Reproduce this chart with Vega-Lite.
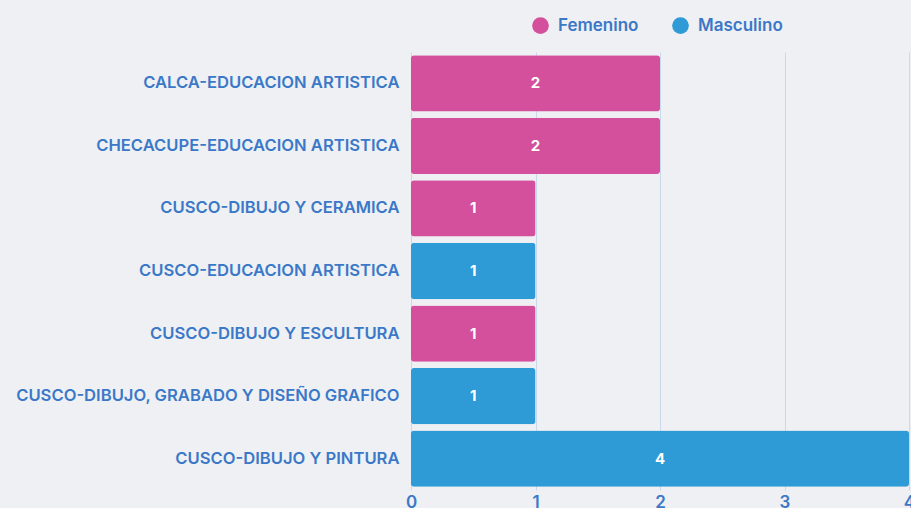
{
  "$schema": "https://vega.github.io/schema/vega-lite/v6.json",
  "width": 498,
  "height": 438,
  "autosize": {"type": "none"},
  "padding": {"left": 411, "top": 52, "right": 2, "bottom": 18},
  "background": "#eef0f3",
  "config": {
    "view": {"stroke": null},
    "font": "Inter"
  },
  "data": {
    "values": [
      {"carrera": "CALCA-EDUCACION ARTISTICA", "sexo": "Femenino", "cantidad": 2},
      {"carrera": "CHECACUPE-EDUCACION ARTISTICA", "sexo": "Femenino", "cantidad": 2},
      {"carrera": "CUSCO-DIBUJO Y CERAMICA", "sexo": "Femenino", "cantidad": 1},
      {"carrera": "CUSCO-EDUCACION ARTISTICA", "sexo": "Masculino", "cantidad": 1},
      {"carrera": "CUSCO-DIBUJO Y ESCULTURA", "sexo": "Femenino", "cantidad": 1},
      {"carrera": "CUSCO-DIBUJO, GRABADO Y DISEÑO GRAFICO", "sexo": "Masculino", "cantidad": 1},
      {"carrera": "CUSCO-DIBUJO Y PINTURA", "sexo": "Masculino", "cantidad": 4}
    ]
  },
  "encoding": {
    "y": {
      "field": "carrera",
      "type": "nominal",
      "sort": null,
      "scale": {"paddingInner": 0.1, "paddingOuter": 0.05},
      "axis": {
        "title": null,
        "domain": false,
        "ticks": false,
        "labelPadding": 12,
        "labelFont": "Inter",
        "labelFontWeight": 600,
        "labelFontSize": 16.6,
        "labelColor": "#3b78c8",
        "labelLimit": 500
      }
    }
  },
  "layer": [
    {
      "mark": {"type": "bar", "cornerRadius": 3},
      "encoding": {
        "x": {
          "field": "cantidad",
          "type": "quantitative",
          "scale": {"domain": [0, 4], "nice": false},
          "axis": {
            "title": null,
            "values": [0, 1, 2, 3, 4],
            "format": "d",
            "labelOverlap": false,
            "domain": false,
            "ticks": false,
            "grid": true,
            "gridColor": "#c9d8ea",
            "gridWidth": 1,
            "labelFont": "Inter",
            "labelFontWeight": 600,
            "labelFontSize": 17,
            "labelColor": "#3b78c8",
            "labelPadding": 4,
            "labelFlush": false
          }
        },
        "color": {
          "field": "sexo",
          "type": "nominal",
          "scale": {"domain": ["Femenino", "Masculino"], "range": ["#d44f9c", "#2e9ad6"]},
          "legend": {
            "title": null,
            "orient": "none",
            "direction": "horizontal",
            "legendX": 120,
            "legendY": -36,
            "symbolType": "circle",
            "symbolSize": 280,
            "symbolOpacity": 1,
            "labelFont": "Inter",
            "labelFontWeight": 600,
            "labelFontSize": 17,
            "labelColor": "#3b78c8",
            "columnPadding": 32,
            "labelOffset": 8
          }
        }
      }
    },
    {
      "transform": [{"calculate": "datum.cantidad / 2", "as": "mitad"}],
      "mark": {"type": "text", "color": "white", "font": "Inter", "fontWeight": 700, "fontSize": 15, "baseline": "middle", "align": "center"},
      "encoding": {
        "x": {"field": "mitad", "type": "quantitative"},
        "text": {"field": "cantidad", "type": "quantitative"}
      }
    }
  ]
}
